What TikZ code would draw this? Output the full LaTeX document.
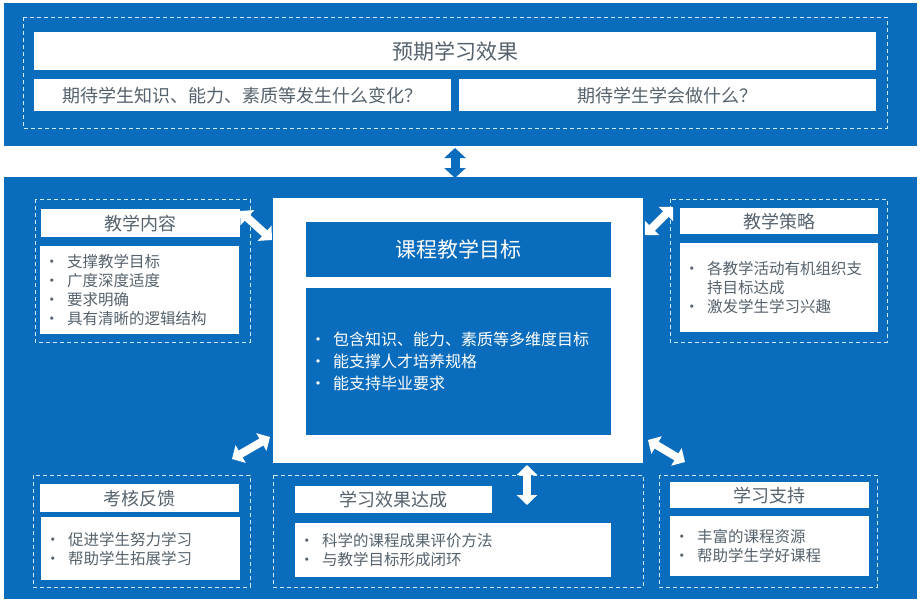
\documentclass[tikz,border=0pt]{standalone}
\usepackage{fontspec}
\setmainfont{Noto Sans CJK SC}
\usetikzlibrary{arrows.meta}
\definecolor{bandblue}{HTML}{0A6CBC}
\definecolor{txtgray}{HTML}{56626D}
\definecolor{dashc}{HTML}{CFEAF7}
\newcommand\bl[1]{\makebox[18pt][l]{\hspace{-5pt}•}#1}
\tikzset{
  wbox/.style={fill=white, draw=none, inner sep=0pt, anchor=north west, text=txtgray},
  ttl/.style={wbox, font=\fontsize{18}{22}\selectfont},
  bigttl/.style={wbox, font=\fontsize{21}{25}\selectfont},
  bodybox/.style={wbox, inner xsep=9pt, align=left, font=\fontsize{15.5}{19}\selectfont},
  bluebox/.style={fill=bandblue, draw=none, inner sep=0pt, anchor=north west, text=white},
  grp/.style={draw=dashc, dashed, line width=0.8pt, dash pattern=on 4pt off 3pt},
  warrow/.style={draw=white, line width=8pt, {Triangle[width=20pt,length=10pt]}-{Triangle[width=20pt,length=10pt]}},
  barrow/.style={draw=bandblue, line width=9pt, {Triangle[width=21pt,length=10pt]}-{Triangle[width=21pt,length=10pt]}}
}
\begin{document}
\begin{tikzpicture}[x=1pt,y=-1pt]
\useasboundingbox[fill=white] (0,0) rectangle (921,605);
% top band
\fill[bandblue] (4,3) rectangle (917,146);
\draw[grp] (23,17) rectangle (887,128);
\node[bigttl, minimum width=842, minimum height=38] (effect) at (34,32) {预期学习效果};
\node[ttl, minimum width=417, minimum height=32] (q1) at (34,79) {期待学生知识、能力、素质等发生什么变化？};
\node[ttl, minimum width=417, minimum height=32] (q2) at (459,79) {期待学生学会做什么？};
% bottom band
\fill[bandblue] (4,177) rectangle (917,599);
\coordinate (topA) at (455,148);
\coordinate (topB) at (455,178);
\draw[barrow] (topA) -- (topB);
% center frame
\node[wbox, minimum width=370, minimum height=265] (frame) at (273,198) {};
\node[bluebox, minimum width=305, minimum height=55, font=\fontsize{21}{25}\selectfont] (goalt) at (306,222) {课程教学目标};
\node[bluebox, minimum width=305, minimum height=147, inner xsep=9pt, text width=287pt, align=left, font=\fontsize{16}{22}\selectfont] (goalb) at (306,288)
  {\bl{包含知识、能力、素质等多维度目标}\\\bl{能支撑人才培养规格}\\\bl{能支持毕业要求}};
% teaching content
\draw[grp] (35,199) rectangle (250,342);
\node[ttl, minimum width=199, minimum height=28] (cont) at (41,209) {教学内容};
\node[bodybox, minimum height=88, text width=181pt] (contb) at (40,246)
  {\bl{支撑教学目标}\\\bl{广度深度适度}\\\bl{要求明确}\\\bl{具有清晰的逻辑结构}};
% teaching strategy
\draw[grp] (670,199) rectangle (887,342);
\node[ttl, minimum width=198, minimum height=26] (strat) at (680,208) {教学策略};
\node[bodybox, minimum height=89, text width=180pt] (stratb) at (680,243)
  {\bl{各教学活动有机组织支}\\\hspace*{18pt}持目标达成\\\bl{激发学生学习兴趣}};
% assessment
\draw[grp] (33,475) rectangle (250,587);
\node[ttl, minimum width=199, minimum height=28] (assess) at (40,484) {考核反馈};
\node[bodybox, minimum height=63, text width=181pt] (assessb) at (41,517)
  {\bl{促进学生努力学习}\\\bl{帮助学生拓展学习}};
% achievement
\draw[grp] (273,475) rectangle (643,587);
\node[ttl, minimum width=197, minimum height=27] (ach) at (295,486) {学习效果达成};
\node[bodybox, minimum height=54, text width=298pt] (achb) at (295,523)
  {\bl{科学的课程成果评价方法}\\\bl{与教学目标形成闭环}};
% support
\draw[grp] (659,475) rectangle (877,587);
\node[ttl, minimum width=199, minimum height=26] (supp) at (670,482) {学习支持};
\node[bodybox, minimum height=60, text width=181pt] (suppb) at (670,516)
  {\bl{丰富的课程资源}\\\bl{帮助学生学好课程}};
% arrows
\coordinate (a1s) at (240,211); \coordinate (a1e) at (272,240);
\coordinate (a2s) at (645,235); \coordinate (a2e) at (673,207);
\coordinate (a3s) at (232,459); \coordinate (a3e) at (270,437);
\coordinate (a4s) at (527,465); \coordinate (a4e) at (527,505);
\coordinate (a5s) at (648,440); \coordinate (a5e) at (685,462);
\draw[warrow] (a1s) -- (a1e);
\draw[warrow] (a2s) -- (a2e);
\draw[warrow] (a3s) -- (a3e);
\draw[warrow] (a4s) -- (a4e);
\draw[warrow] (a5s) -- (a5e);
\end{tikzpicture}
\end{document}
